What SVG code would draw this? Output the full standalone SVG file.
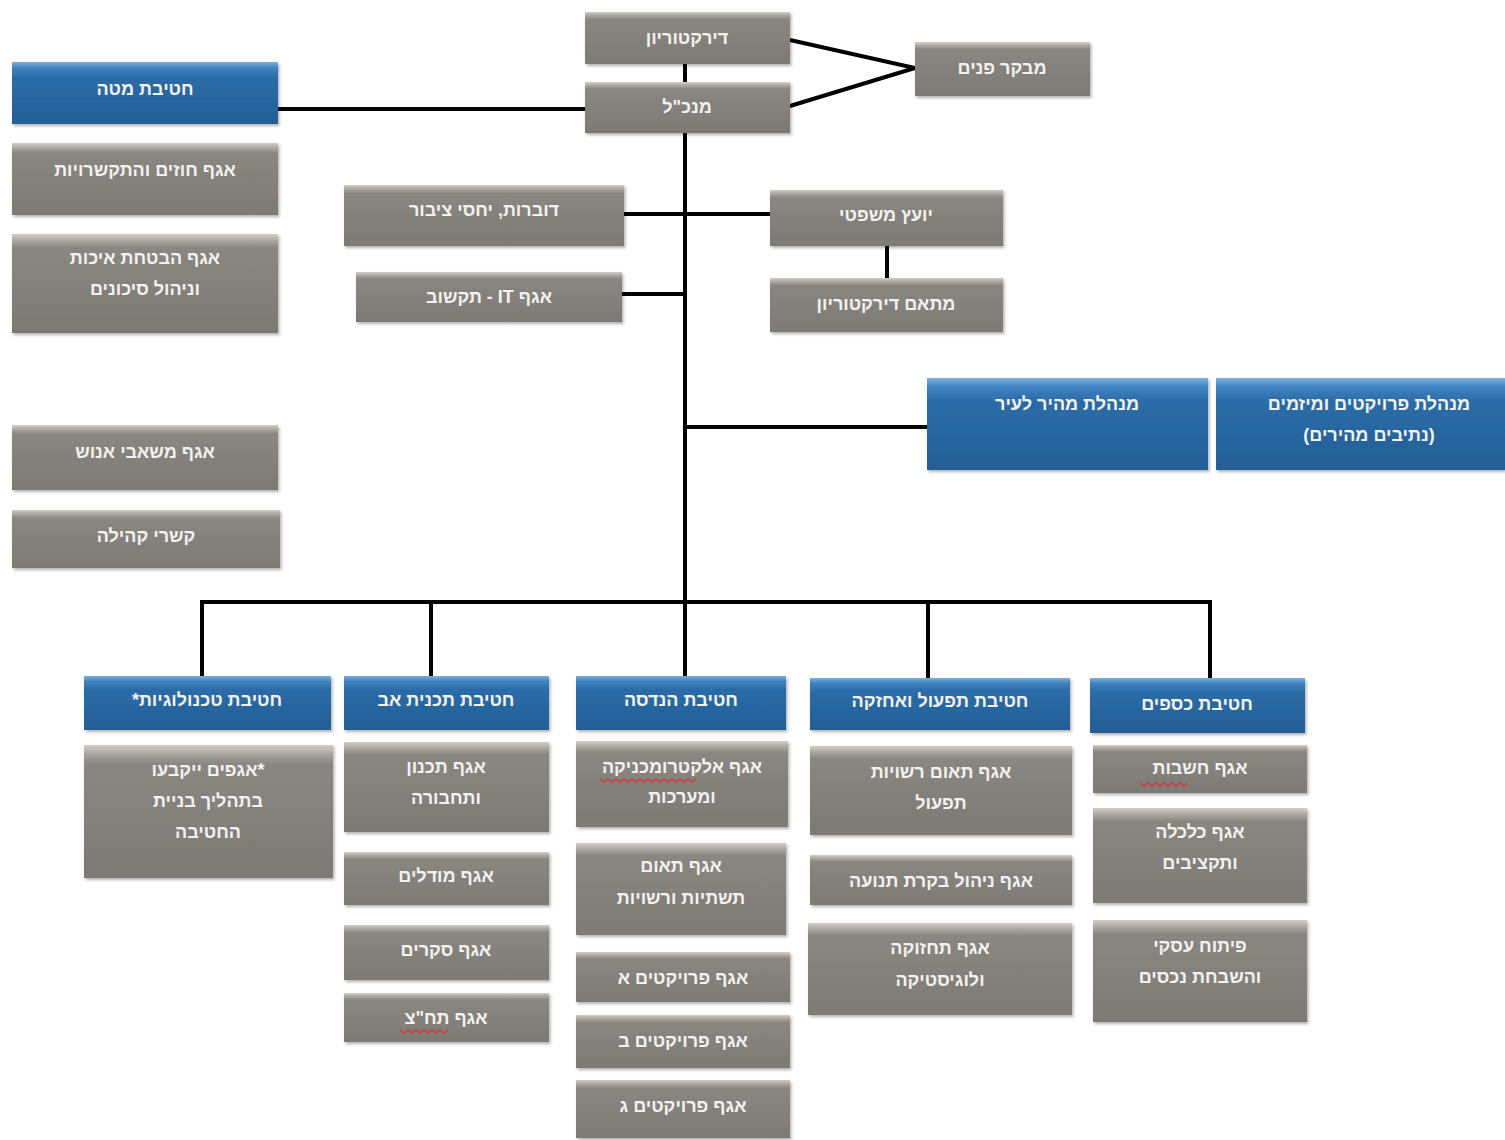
<svg xmlns="http://www.w3.org/2000/svg" width="1505" height="1140" viewBox="0 0 1505 1140">
<defs>
<linearGradient id="gGray" x1="0" y1="0" x2="0" y2="1">
<stop offset="0" stop-color="#d2cec8"/>
<stop offset="0.07" stop-color="#a9a5a0"/>
<stop offset="0.14" stop-color="#8a8782"/>
<stop offset="1" stop-color="#7d7a76"/>
</linearGradient>
<linearGradient id="gBlue" x1="0" y1="0" x2="0" y2="1">
<stop offset="0" stop-color="#7fb0dc"/>
<stop offset="0.1" stop-color="#3f82c0"/>
<stop offset="0.25" stop-color="#2b6ca8"/>
<stop offset="1" stop-color="#245e95"/>
</linearGradient>
<filter id="sh" x="-5%" y="-5%" width="112%" height="125%">
<feDropShadow dx="1.5" dy="2" stdDeviation="1.5" flood-color="#000" flood-opacity="0.3"/>
</filter>
</defs>
<style>
.g{fill:url(#gGray);filter:url(#sh)}
.b{fill:url(#gBlue);filter:url(#sh)}
text{font-family:"Liberation Sans","DejaVu Sans",sans-serif;font-size:18px;font-weight:bold;fill:#f4f2ee;text-anchor:middle;direction:rtl}
.c{stroke:#000;stroke-width:4;fill:none}
.sq{stroke:#d23a3a;stroke-width:1.5;fill:none}
</style>
<rect width="1505" height="1140" fill="#ffffff"/>
<g id="connectors">
<line class="c" x1="685" y1="62" x2="685" y2="84"/>
<polyline class="c" points="790,40 915,68 790,106"/>
<line class="c" x1="278" y1="109" x2="585" y2="109"/>
<line class="c" x1="685" y1="133" x2="685" y2="602"/>
<line class="c" x1="624" y1="214" x2="770" y2="214"/>
<line class="c" x1="622" y1="294" x2="685" y2="294"/>
<line class="c" x1="887" y1="246" x2="887" y2="278"/>
<line class="c" x1="685" y1="427" x2="927" y2="427"/>
<line class="c" x1="200" y1="602" x2="1212" y2="602"/>
<line class="c" x1="202" y1="602" x2="202" y2="676"/>
<line class="c" x1="431" y1="602" x2="431" y2="676"/>
<line class="c" x1="685" y1="602" x2="685" y2="676"/>
<line class="c" x1="928" y1="602" x2="928" y2="678"/>
<line class="c" x1="1210" y1="602" x2="1210" y2="678"/>
</g>
<g id="n-board"><rect class="g" x="585" y="12" width="205" height="52"/><text x="687" y="44">דירקטוריון</text></g>
<g id="n-ceo"><rect class="g" x="585" y="82" width="205" height="51"/><text x="687" y="113">מנכ"ל</text></g>
<g id="n-audit"><rect class="g" x="915" y="42" width="175" height="54"/><text x="1002" y="74">מבקר פנים</text></g>
<g id="n-staff"><rect class="b" x="12" y="62" width="266" height="62"/><text x="145" y="95">חטיבת מטה</text></g>
<g id="n-contracts"><rect class="g" x="12" y="143" width="266" height="72"/><text x="145" y="176">אגף חוזים והתקשרויות</text></g>
<g id="n-quality"><rect class="g" x="12" y="234" width="266" height="99"/><text x="145" y="264">אגף הבטחת איכות</text><text x="145" y="295">וניהול סיכונים</text></g>
<g id="n-hr"><rect class="g" x="12" y="425" width="266" height="65"/><text x="145" y="458">אגף משאבי אנוש</text></g>
<g id="n-community"><rect class="g" x="12" y="510" width="268" height="58"/><text x="146" y="542">קשרי קהילה</text></g>
<g id="n-pr"><rect class="g" x="344" y="185" width="280" height="61"/><text x="484" y="216">דוברות, יחסי ציבור</text></g>
<g id="n-it"><rect class="g" x="356" y="272" width="266" height="50"/><text x="489" y="303">אגף IT - תקשוב</text></g>
<g id="n-legal"><rect class="g" x="770" y="190" width="233" height="56"/><text x="886" y="221">יועץ משפטי</text></g>
<g id="n-coord"><rect class="g" x="770" y="278" width="233" height="54"/><text x="886" y="310">מתאם דירקטוריון</text></g>
<g id="n-fast"><rect class="b" x="927" y="378" width="281" height="92"/><text x="1067" y="410">מנהלת מהיר לעיר</text></g>
<g id="n-projects"><rect class="b" x="1216" y="378" width="289" height="92"/><text x="1369" y="410">מנהלת פרויקטים ומיזמים</text><text x="1369" y="441">(נתיבים מהירים)</text></g>
<g id="n-tech"><rect class="b" x="84" y="676" width="247" height="54"/><text x="207" y="706">חטיבת טכנולוגיות*</text></g>
<g id="n-tech-note"><rect class="g" x="84" y="745" width="249" height="133"/><text x="208" y="776">*אגפים ייקבעו</text><text x="208" y="807">בתהליך בניית</text><text x="208" y="838">החטיבה</text></g>
<g id="n-master"><rect class="b" x="344" y="676" width="205" height="54"/><text x="446" y="706">חטיבת תכנית אב</text></g>
<g id="n-planning"><rect class="g" x="344" y="742" width="205" height="90"/><text x="446" y="773">אגף תכנון</text><text x="446" y="804">ותחבורה</text></g>
<g id="n-models"><rect class="g" x="344" y="852" width="205" height="53"/><text x="446" y="882">אגף מודלים</text></g>
<g id="n-surveys"><rect class="g" x="344" y="925" width="205" height="55"/><text x="446" y="956">אגף סקרים</text></g>
<g id="n-pt"><rect class="g" x="344" y="993" width="205" height="49"/><text x="446" y="1024">אגף תח"צ</text><path class="sq" d="M400,1030 l4,3 l4,-3 l4,3 l4,-3 l4,3 l4,-3 l4,3 l4,-3 l4,3 l4,-3 l4,3 l4,-3"/></g>
<g id="n-eng"><rect class="b" x="576" y="676" width="210" height="54"/><text x="681" y="706">חטיבת הנדסה</text></g>
<g id="n-electro"><rect class="g" x="576" y="741" width="212" height="86"/><text x="682" y="773">אגף אלקטרומכניקה</text><path class="sq" d="M600,779 l4,3 l4,-3 l4,3 l4,-3 l4,3 l4,-3 l4,3 l4,-3 l4,3 l4,-3 l4,3 l4,-3 l4,3 l4,-3 l4,3 l4,-3 l4,3 l4,-3 l4,3 l4,-3 l4,3 l4,-3 l4,3 l4,-3"/><text x="682" y="803">ומערכות</text></g>
<g id="n-infra"><rect class="g" x="576" y="843" width="210" height="92"/><text x="681" y="872">אגף תאום</text><text x="681" y="904">תשתיות ורשויות</text></g>
<g id="n-proj-a"><rect class="g" x="576" y="952" width="214" height="50"/><text x="683" y="984">אגף פרויקטים א</text></g>
<g id="n-proj-b"><rect class="g" x="576" y="1015" width="214" height="53"/><text x="683" y="1047">אגף פרויקטים ב</text></g>
<g id="n-proj-c"><rect class="g" x="576" y="1080" width="214" height="58"/><text x="683" y="1112">אגף פרויקטים ג</text></g>
<g id="n-ops"><rect class="b" x="810" y="678" width="260" height="52"/><text x="940" y="707">חטיבת תפעול ואחזקה</text></g>
<g id="n-authorities"><rect class="g" x="810" y="746" width="262" height="89"/><text x="941" y="778">אגף תאום רשויות</text><text x="941" y="809">תפעול</text></g>
<g id="n-traffic"><rect class="g" x="810" y="855" width="262" height="50"/><text x="941" y="887">אגף ניהול בקרת תנועה</text></g>
<g id="n-maint"><rect class="g" x="808" y="923" width="264" height="92"/><text x="940" y="954">אגף תחזוקה</text><text x="940" y="986">ולוגיסטיקה</text></g>
<g id="n-finance"><rect class="b" x="1090" y="678" width="215" height="55"/><text x="1197" y="710">חטיבת כספים</text></g>
<g id="n-accounting"><rect class="g" x="1093" y="745" width="214" height="48"/><text x="1200" y="774">אגף חשבות</text><path class="sq" d="M1140,783 l4,3 l4,-3 l4,3 l4,-3 l4,3 l4,-3 l4,3 l4,-3 l4,3 l4,-3 l4,3 l4,-3"/></g>
<g id="n-economy"><rect class="g" x="1093" y="808" width="214" height="95"/><text x="1200" y="838">אגף כלכלה</text><text x="1200" y="869">ותקציבים</text></g>
<g id="n-business"><rect class="g" x="1093" y="920" width="214" height="102"/><text x="1200" y="952">פיתוח עסקי</text><text x="1200" y="983">והשבחת נכסים</text></g>
</svg>
